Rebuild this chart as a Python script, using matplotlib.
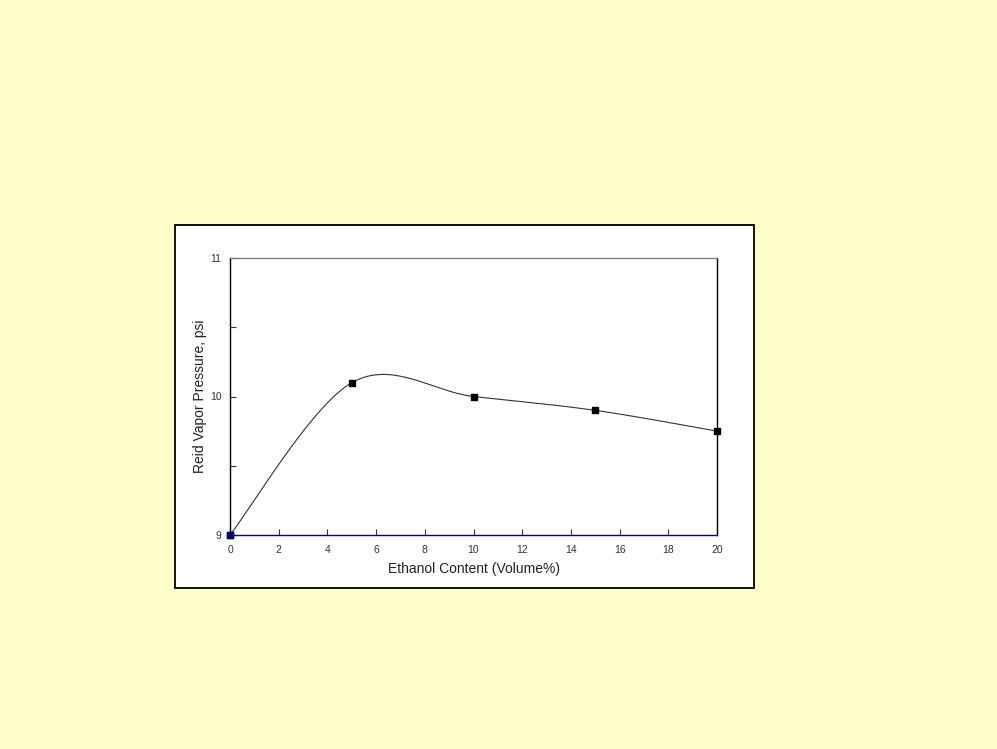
import numpy as np
import matplotlib.pyplot as plt
from matplotlib.patches import Rectangle

plt.rcParams['font.family'] = ['Liberation Sans', 'DejaVu Sans']

ethanol = [0, 5, 10, 15, 20]
rvp = [9.0, 10.1, 10.0, 9.9, 9.75]
x_ticks = [0, 2, 4, 6, 8, 10, 12, 14, 16, 18, 20]
y_ticks = [9, 10, 11]


def excel_smooth(xs, ys, n=60):
    # bezier smoothing like the spreadsheet "smoothed line" option
    pts = np.column_stack([xs, ys]).astype(float)
    out = []
    for i in range(len(pts) - 1):
        p0 = pts[i - 1] if i > 0 else pts[i]
        p1 = pts[i]
        p2 = pts[i + 1]
        p3 = pts[i + 2] if i + 2 < len(pts) else pts[i + 1]
        c1 = p1 + (p2 - p0) / 6
        c2 = p2 - (p3 - p1) / 6
        t = np.linspace(0, 1, n)[:, None]
        seg = ((1 - t) ** 3 * p1 + 3 * (1 - t) ** 2 * t * c1
               + 3 * (1 - t) * t ** 2 * c2 + t ** 3 * p2)
        out.append(seg)
    out = np.vstack(out)
    return out[:, 0], out[:, 1]


fig = plt.figure(figsize=(9.97, 7.49), dpi=100)
fig.patch.set_facecolor('#ffffcc')

# white chart area with black frame, on its own axes behind the plot
bg = fig.add_axes([0, 0, 1, 1], zorder=-1)
bg.set_axis_off()
bg.set_xlim(0, 997)
bg.set_ylim(749, 0)
bg.add_patch(Rectangle((175, 225), 579, 363, facecolor='white',
                       edgecolor='black', linewidth=1.3))

ax = fig.add_axes([230 / 997, 1 - 535 / 749, 487 / 997, 277 / 749])
ax.set_facecolor('white')

sx, sy = excel_smooth(ethanol, rvp)
ax.plot(sx, sy, color='#333333', linewidth=0.8, zorder=2)
ax.plot(ethanol, rvp, linestyle='none', marker='s', markersize=5,
        color='black', zorder=3, clip_on=False)
ax.plot(ethanol[:1], rvp[:1], linestyle='none', marker='s', markersize=5,
        color='#000066', zorder=4, clip_on=False)

ax.set_xlim(0, 20)
ax.set_ylim(9, 11)
ax.set_xticks(x_ticks)
ax.set_yticks(y_ticks)
ax.set_yticks([9.5, 10.5], minor=True)
ax.tick_params(axis='both', direction='in', labelsize=7.5, colors='#333333',
               length=4, width=0.8)
ax.tick_params(axis='y', which='minor', direction='in', length=4, width=0.8,
               colors='#333333')
ax.tick_params(axis='x', pad=7.5)
ax.tick_params(axis='y', pad=6)

ax.spines['top'].set_color('#808080')
ax.spines['bottom'].set_color('#000080')
ax.spines['left'].set_color('black')
ax.spines['right'].set_color('black')
for s in ax.spines.values():
    s.set_linewidth(1.0)

ax.set_xlabel('Ethanol Content (Volume%)', fontsize=10, color='#222222', labelpad=4.5)
ax.set_ylabel('Reid Vapor Pressure, psi', fontsize=10, color='#222222', labelpad=2.5)

fig.savefig('out.png', dpi=100, facecolor=fig.get_facecolor())
